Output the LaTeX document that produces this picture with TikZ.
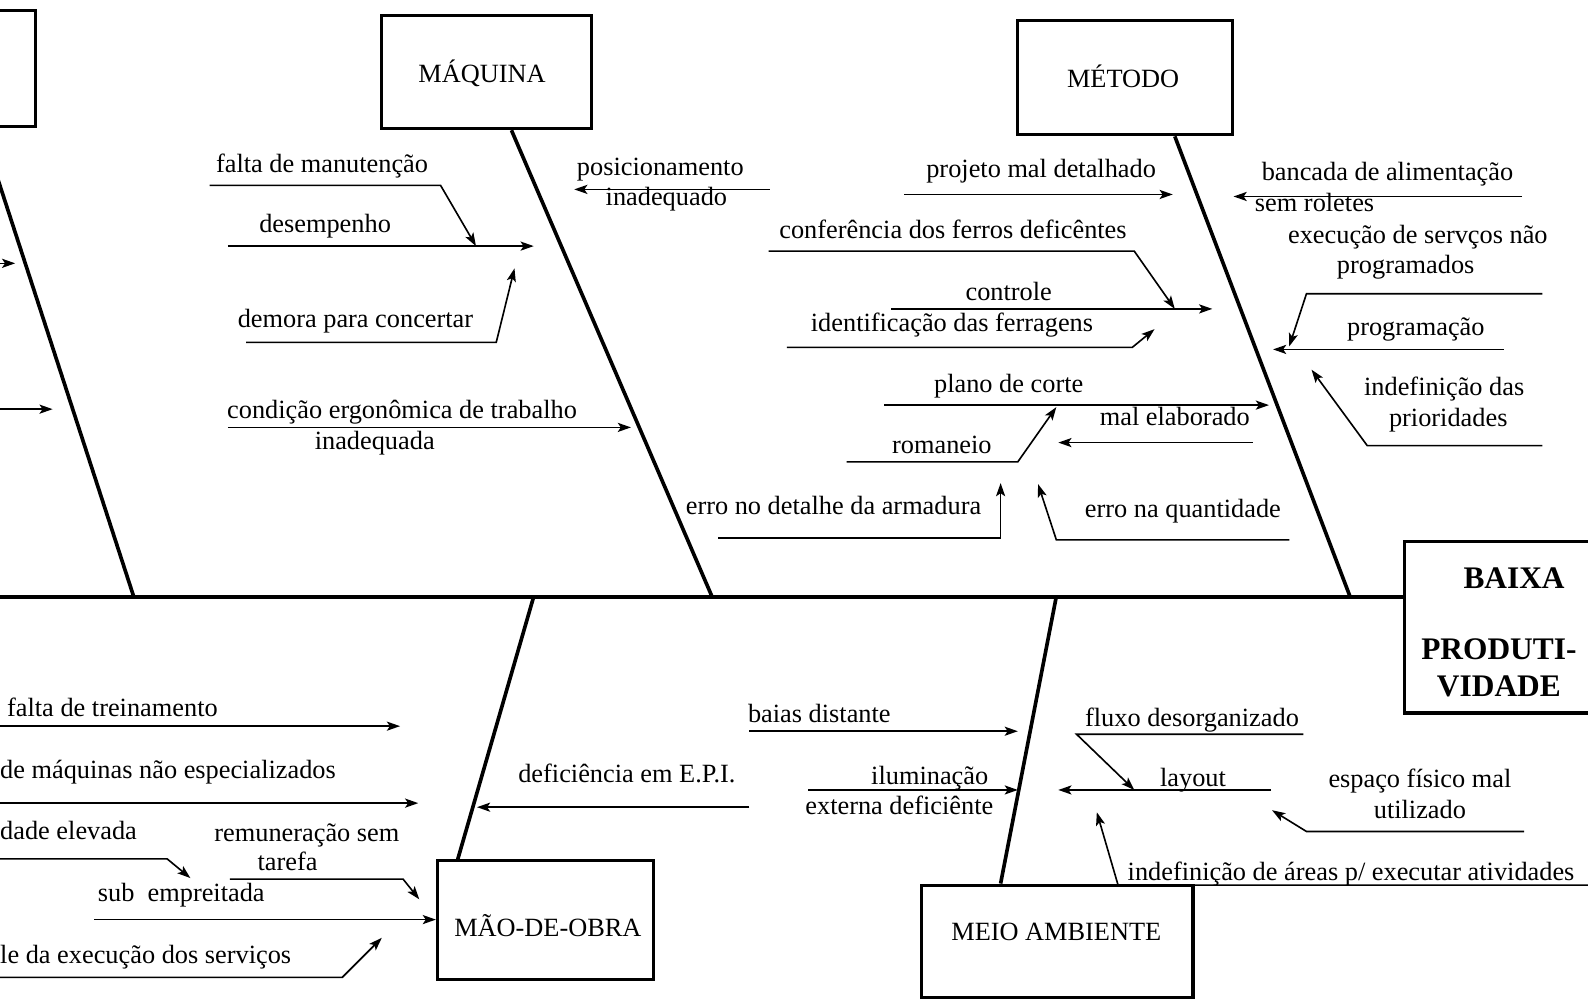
\documentclass[tikz,border=0pt]{standalone}
\usepackage{fontspec}
\setmainfont{Liberation Serif}
\usetikzlibrary{arrows.meta}
\newcommand\lblsize{\fontsize{26}{30}\selectfont}
\newcommand\effsize{\fontsize{31}{36}\selectfont\bfseries}
\begin{document}
\begin{tikzpicture}[x=1pt,y=-1pt,
  spine/.style={line width=4pt},
  bone/.style={line width=3.6pt},
  catbox/.style={draw,line width=3.2pt,inner sep=0pt},
  cause/.style={line width=1.6pt},
  arr/.style={cause,-{Stealth[length=13pt,width=9pt,inset=3pt]}},
  lbl/.style={font=\lblsize,inner sep=0pt,anchor=base},
  lblw/.style={lbl,anchor=base west},
  eff/.style={font=\effsize,inner sep=0pt,anchor=base}]

\useasboundingbox (0,0) rectangle (1568,989);
\clip (0,0) rectangle (1568,989);

% ---------- category boxes ----------
\node[catbox,minimum width=80pt,minimum height=115pt] (lbox) at (-5,67.5) {};
\node[catbox,minimum width=207pt,minimum height=112pt] (mq) at (480.5,71) {};
\node[catbox,minimum width=212pt,minimum height=113pt] (mt) at (1111,76.5) {};
\node[catbox,minimum width=213pt,minimum height=117pt] (mo) at (538.5,908.5) {};
\node[catbox,minimum width=268pt,minimum height=111pt] (ma) at (1044,929.5) {};
\node[catbox,minimum width=213pt,minimum height=169pt] (ef) at (1493.5,619.5) {};

\node[lbl] (mqt) at (476,81) {MÁQUINA};
\node[lbl] (mtt) at (1109,86) {MÉTODO};
\node[lbl] (mot) at (541,925) {MÃO-DE-OBRA};
\node[lbl] (mat) at (1043,929) {MEIO AMBIENTE};
\node[eff] (ef1) at (1495,581) {BAIXA};
\node[eff] (ef2) at (1480,651) {PRODUTI-};
\node[eff] (ef3) at (1480,688) {VIDADE};

% ---------- spine and bones ----------
\coordinate (s0) at (0,589);
\coordinate (s1) at (132,589);
\coordinate (s2) at (703,589);
\coordinate (s3) at (1333,589);
\coordinate (b1) at (527,589);
\coordinate (b2) at (1043,589);
\draw[spine] (s0) -- (ef.west |- s0);
\draw[bone] (-19,125) -- (s1);
\draw[bone] (mq.south -| 505,0) -- (s2);
\draw[bone] (mt.south -| 1160,0) -- (s3);
\draw[bone] (b1) -- (mo.north -| 452,0);
\draw[bone] (b2) -- (ma.north -| 988,0);

% ---------- leftmost branch ----------
\draw[arr] (-5,260) -- (15,260);
\draw[arr] (-5,404) -- (52,404);

% ---------- MÁQUINA ----------
\node[lbl] (q1) at (318,170) {falta de manutenção};
\draw[arr] (207,183) -- (435,183) -- (470,243);
\node[lbl] (q2) at (321,230) {desempenho};
\draw[arr] (225,243) -- (527,243);
\node[lbl] (q3) at (351,323) {demora para concertar};
\draw[arr] (243,338) -- (490,338) -- (508,265);
\node[lbl] (q4a) at (397,413) {condição ergonômica de trabalho};
\node[lbl] (q4b) at (370,444) {inadequada};
\draw[arr] (225,422) -- (623,422);
\node[lbl] (q5a) at (652,173) {posicionamento};
\node[lbl] (q5b) at (658,203) {inadequado};
\draw[arr] (760,187) -- (567,187);

% ---------- MÉTODO, left side ----------
\node[lbl] (m1) at (1028,175) {projeto mal detalhado};
\draw[arr] (893,192) -- (1158,192);
\node[lbl] (m2) at (941,235) {conferência dos ferros deficêntes};
\draw[arr] (759,248) -- (1120,248) -- (1160,305);
\node[lbl] (m3a) at (996,297) {controle};
\node[lbl] (m3b) at (940,327) {identificação das ferragens};
\draw[arr] (880,305) -- (1197,305);
\draw[arr] (777,343) -- (1118,343) -- (1140,325);
\node[lbl] (m4) at (996,388) {plano de corte};
\draw[arr] (873,400) -- (1253,400);
\node[lbl] (m5) at (1160,420) {mal elaborado};
\draw[arr] (1237,437) -- (1045,437);
\node[lbl] (m6) at (930,448) {romaneio};
\draw[arr] (836,456) -- (1005,456) -- (1043,402);
\node[lbl] (m7) at (823,508) {erro no detalhe da armadura};
\draw[arr] (709,531) -- (988,531) -- (988,477);
\node[lbl] (m8) at (1168,511) {erro na quantidade};
\draw[arr] (1273,533) -- (1043,533) -- (1025,478);

% ---------- MÉTODO, right side ----------
\node[lbl] (r1a) at (1370,178) {bancada de alimentação};
\node[lbl] (r1b) at (1298,209) {sem roletes};
\draw[arr] (1503,194) -- (1218,194);
\node[lbl] (r2a) at (1400,240) {execução de servços não};
\node[lbl] (r2b) at (1388,270) {programados};
\draw[arr] (1523,290) -- (1290,290) -- (1273,342);
\node[lbl] (r3) at (1398,331) {programação};
\draw[arr] (1485,345) -- (1257,345);
\node[lbl] (r4a) at (1426,391) {indefinição das};
\node[lbl] (r4b) at (1430,421) {prioridades};
\draw[arr] (1523,440) -- (1350,440) -- (1295,365);

% ---------- MÃO-DE-OBRA ----------
\node[lbl] (o1) at (111,707) {falta de treinamento};
\draw[arr] (0,717) -- (395,717);
\node[lblw] (o2) at (0,769) {de máquinas não especializados};
\draw[arr] (0,793) -- (413,793);
\node[lblw] (o3) at (0,829) {dade elevada};
\draw[arr] (0,848) -- (165,848) -- (188,867);
\node[lbl] (o4a) at (303,831) {remuneração sem};
\node[lbl] (o4b) at (284,860) {tarefa};
\draw[arr] (227,868) -- (398,868) -- (414,888);
\node[lbl] (o5) at (179,890) {sub\ \ empreitada};
\draw[arr] (93,908) -- (mo.west |- 0,908);
\node[lblw] (o6) at (0,951) {le da execução dos serviços};
\draw[arr] (0,965) -- (338,965) -- (377,926);
\node[lbl] (o7) at (619,773) {deficiência em E.P.I.};
\draw[arr] (740,797) -- (471,797);

% ---------- MEIO AMBIENTE ----------
\node[lbl] (a1) at (809,713) {baias distante};
\draw[arr] (740,722) -- (1005,722);
\node[lbl] (a2a) at (918,775) {iluminação};
\node[lbl] (a2b) at (888,804) {externa deficiênte};
\draw[arr] (798,780) -- (1005,780);
\node[lbl] (a3) at (1177,717) {fluxo desorganizado};
\draw[arr] (1287,725) -- (1063,725) -- (1120,780);
\node[lbl] (a4) at (1178,777) {layout};
\draw[arr] (1255,780) -- (1045,780);
\node[lbl] (a5a) at (1402,778) {espaço físico mal};
\node[lbl] (a5b) at (1402,808) {utilizado};
\draw[arr] (1505,821) -- (1290,821) -- (1256,800);
\node[lbl] (a6) at (1334,869) {indefinição de áreas p/ executar atividades};
\draw[arr] (1568,874) -- (1104,874) -- (1083,802);
\end{tikzpicture}
\end{document}
